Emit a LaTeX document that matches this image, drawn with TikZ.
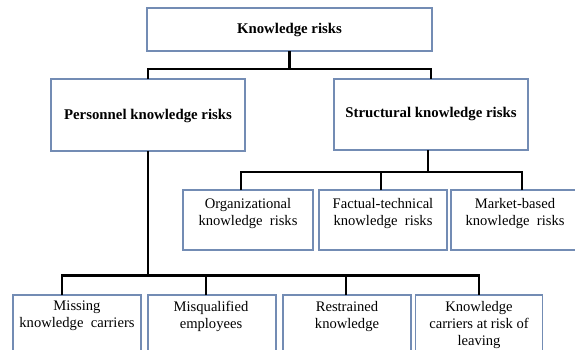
\documentclass[tikz,border=0pt]{standalone}
\usepackage{fontspec}
\setmainfont{Liberation Serif}
\definecolor{boxblue}{RGB}{115,140,180}
\begin{document}
\begin{tikzpicture}[x=1pt,y=-1pt,
  box/.style={draw=boxblue,line width=1.3pt,fill=white,inner sep=0pt,outer sep=0pt,anchor=north west},
  btxt/.style={font=\fontsize{14.8}{17}\selectfont\bfseries,inner sep=0pt},
  rtxt/.style={font=\fontsize{14.6}{17}\selectfont,inner sep=0pt,align=center,anchor=north},
  conn/.style={draw=black,line width=2.1pt}]
\useasboundingbox (0,0) rectangle (575,349);
\begin{scope}
\clip (0,0) rectangle (575,349);
% level 0
\node[box,minimum width=285pt,minimum height=43pt] (top) at (147,8) {};
\node[btxt] (toptxt) at (289.5,30) {Knowledge risks};
% level 1
\node[box,minimum width=194pt,minimum height=72pt] (pers) at (51,79) {};
\node[btxt] (perstxt) at (148,116) {Personnel knowledge risks};
\node[box,minimum width=194pt,minimum height=71pt] (struc) at (334,79) {};
\node[btxt] (structxt) at (431,114) {Structural knowledge risks};
% level 2 (structural)
\node[box,minimum width=130pt,minimum height=60pt] (org) at (183,190) {};
\node[rtxt] (orgtxt) at (248,198) {Organizational\\knowledge~ risks};
\node[box,minimum width=128pt,minimum height=60pt] (fact) at (319,190) {};
\node[rtxt] (facttxt) at (383,198) {Factual-technical\\knowledge~ risks};
\node[box,minimum width=130pt,minimum height=60pt] (mark) at (451,190) {};
\node[rtxt] (marktxt) at (515,198) {Market-based\\knowledge~ risks};
% level 2 (personnel)
\node[box,minimum width=128pt,minimum height=70pt] (miss) at (13,295) {};
\node[rtxt] (misstxt) at (77,301) {Missing\\knowledge~ carriers};
\node[box,minimum width=128pt,minimum height=70pt] (misq) at (148,295) {};
\node[rtxt] (misqtxt) at (211,301) {Misqualified\\employees};
\node[box,minimum width=128pt,minimum height=70pt] (restr) at (283,295) {};
\node[rtxt] (restrtxt) at (347,301) {Restrained\\knowledge};
\node[box,minimum width=127pt,minimum height=70pt] (carr) at (415.5,295) {};
\node[rtxt] (carrtxt) at (479,301) {Knowledge\\carriers at risk of\\leaving};
% connectors
\coordinate (b1) at (289.5,69);
\coordinate (b2) at (428,172);
\coordinate (b3) at (148,275.5);
\draw[conn] (top.south) -- (b1);
\draw[conn] (pers.north) |- (b1) -| (struc.north);
\draw[conn] (pers.south) -- (b3);
\draw[conn] ([xshift=-3pt]struc.south) -- (b2);
\draw[conn] ([xshift=-7pt]org.north) |- (b2) -| ([xshift=6pt]mark.north);
\draw[conn] ([xshift=-2pt]fact.north) -- ([xshift=-2pt]fact.north |- b2);
\draw[conn] ([xshift=-15pt]miss.north) |- (b3) -| (carr.north);
\draw[conn] ([xshift=-6pt]misq.north) -- ([xshift=-6pt]misq.north |- b3);
\draw[conn] ([xshift=-1pt]restr.north) -- ([xshift=-1pt]restr.north |- b3);
\end{scope}
\end{tikzpicture}
\end{document}
